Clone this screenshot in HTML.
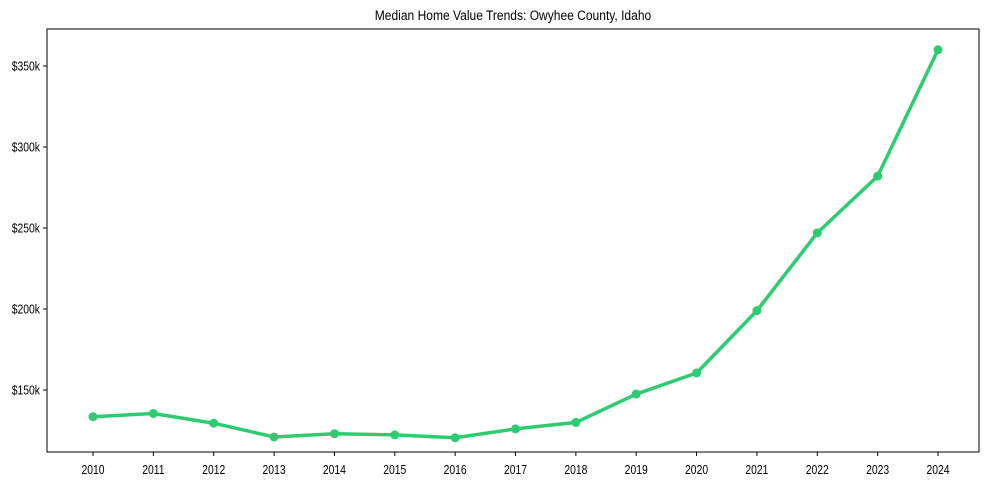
<!DOCTYPE html>
<html><head><meta charset="utf-8"><style>
body{margin:0;background:#fff}
svg{display:block;font-family:"Liberation Sans",Arial,sans-serif}
</style></head><body>
<svg width="989" height="490" viewBox="0 0 989 490">
<text x="513" y="20" text-anchor="middle" font-size="14" transform="translate(513,0) scale(0.86,1) translate(-513,0)">Median Home Value Trends: Owyhee County, Idaho</text>
<rect x="47" y="29" width="932" height="423" fill="none" stroke="#000" stroke-width="1"/>
<g id="axes"></g>
<g id="marks"></g>
</svg>
<script>
const years=["2010","2011","2012","2013","2014","2015","2016","2017","2018","2019","2020","2021","2022","2023","2024"];
const values=[133.5,135.5,129.5,121,123,122.3,120.5,126,130,147.5,160.5,199,247,282,360];
const yTicks=[150,200,250,300,350];
const yTickLabels=["$150k","$200k","$250k","$300k","$350k"];
const NS="http://www.w3.org/2000/svg";
const xs=i=>93+i*(938-93)/(years.length-1);
const ys=v=>66+(350-v)*1.62;
const axes=document.getElementById('axes'),marks=document.getElementById('marks');
function mk(t,a,p){const e=document.createElementNS(NS,t);for(const k in a)e.setAttribute(k,a[k]);p.appendChild(e);return e;}
years.forEach((y,i)=>{
  const t=mk('line',{x1:xs(i),x2:xs(i),y1:452,y2:456,stroke:'#000'},axes);
  
  
  const l=mk('text',{x:xs(i),y:474,'text-anchor':'middle','font-size':'12.5',transform:`translate(${xs(i)},0) scale(0.83,1) translate(${-xs(i)},0)`},axes);
  l.textContent=y;
  
  
});
yTicks.forEach((v,i)=>{
  const t=mk('line',{x1:43,x2:47,y1:ys(v),y2:ys(v),stroke:'#000'},axes);
  
  
  const l=mk('text',{x:40,y:ys(v)+4.5,'text-anchor':'end','font-size':'12.5',transform:`translate(40,0) scale(0.83,1) translate(-40,0)`},axes);
  l.textContent=yTickLabels[i];
  
  
});
const pts=values.map((v,i)=>xs(i)+','+ys(v)).join(' ');
const line=mk('polyline',{points:pts,fill:'none',stroke:'#2ecc71','stroke-width':3.5,'stroke-linejoin':'round'},marks);


values.forEach((v,i)=>{
  const c=mk('circle',{cx:xs(i),cy:ys(v),r:4.5,fill:'#2ecc71'},marks);
  
  
});
</script>
</body></html>
